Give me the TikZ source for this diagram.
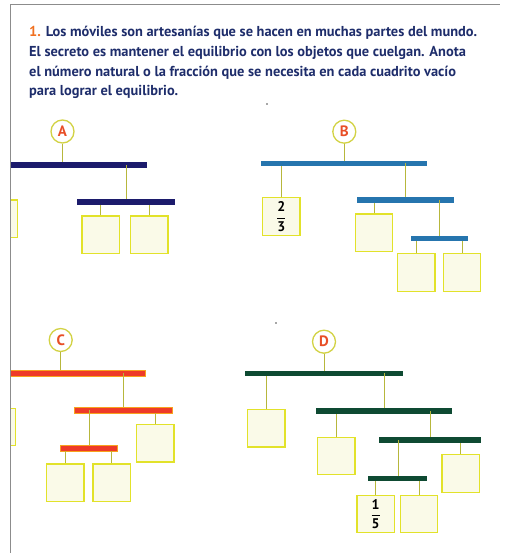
\documentclass[tikz,border=0pt]{standalone}
\usepackage{fontspec}
\setmainfont{PT Sans}
\setsansfont{PT Sans}
\begin{document}
\begin{tikzpicture}[x=1pt,y=-1pt]
\definecolor{navyT}{HTML}{1E2D6B}
\definecolor{orT}{HTML}{F07020}
\definecolor{barA}{HTML}{1C1B6C}
\definecolor{barB}{HTML}{2675AE}
\definecolor{barCf}{HTML}{EE3A28}
\definecolor{barCe}{HTML}{F7A21E}
\definecolor{barD}{HTML}{0E4A32}
\definecolor{boxc}{HTML}{E2E22A}
\definecolor{boxfill}{HTML}{FAFAE8}
\definecolor{stemc}{HTML}{B7B73C}
\definecolor{circc}{HTML}{D2D244}
\definecolor{labc}{HTML}{E84E26}
\definecolor{framec}{HTML}{8C8C8C}
\tikzset{
  titleline/.style={anchor=base west, inner sep=0, font=\fontsize{14.4}{16}\selectfont\bfseries, text=navyT},
  mbox/.style={draw=boxc, fill=boxfill, line width=1.3pt, minimum width=37.5pt, minimum height=37.5pt, inner sep=0, font=\bfseries\fontsize{14}{14}\selectfont},
  barbase/.style={anchor=west, minimum height=5.5pt, inner sep=0, outer sep=0},
  barAst/.style={barbase, fill=barA},
  barBst/.style={barbase, fill=barB},
  barCst/.style={barbase, fill=barCf, draw=barCe, line width=0.8pt},
  barDst/.style={barbase, fill=barD},
  stem/.style={draw=stemc, line width=0.9pt},
  lab/.style={circle, draw=circc, fill=white, line width=1.3pt, minimum size=23pt, inner sep=0, font=\bfseries\fontsize{15}{15}\selectfont, text=labc},
  frame/.style={draw=framec, line width=1pt}
}
\useasboundingbox (0,0) rectangle (504,553);
% frame
\coordinate (fTL) at (10,5);
\coordinate (fTR) at (500,5);
\coordinate (fBL) at (10,553);
% title
\node[titleline] (t1) at (29,37) {\textcolor{orT}{1.} Los móviles son artesanías que se hacen en muchas partes del mundo.};
\node[titleline] (t2) at (29,56.7) {El secreto es mantener el equilibrio con los objetos que cuelgan. Anota};
\node[titleline] (t3) at (29,76.3) {el número natural o la fracción que se necesita en cada cuadrito vacío};
\node[titleline] (t4) at (29,96) {para lograr el equilibrio.};
% specks
\fill[black!70] (267,104) circle (0.9pt);
\fill[black!70] (276,323) circle (0.8pt);

% ================= A =================
\begin{scope}
\clip (10,0) rectangle (504,553);
\node[mbox] (boxA0) at (-1.5,218.7) {};
\node[mbox] (boxC0) at (-3.5,427) {};
\end{scope}
\node[barAst, minimum width=137.3pt] (barA1) at (10,165) {};
\node[barAst, minimum width=98.3pt] (barA2) at (76.7,202) {};
\node[lab] (cA) at (62.5,131.5) {A};
\draw[stem] (cA.south) -- (cA.south |- barA1.north);
\coordinate (hA1) at (126,165);
\draw[stem] (hA1) -- (hA1 |- barA2.north);
\node[mbox] (boxA1) at (100.8,234.7) {};
\node[mbox] (boxA2) at (149.2,234.7) {};
\draw[stem] (boxA1.north) -- (boxA1.north |- barA2.south);
\draw[stem] (boxA2.north) -- (boxA2.north |- barA2.south);

% ================= B =================
\node[barBst, minimum width=166pt] (barB1) at (260.7,163.3) {};
\node[barBst, minimum width=96.7pt] (barB2) at (357.3,200) {};
\node[barBst, minimum width=57.3pt] (barB3) at (410.7,238.3) {};
\node[lab] (cB) at (344.3,131.7) {B};
\draw[stem] (cB.south) -- (cB.south |- barB1.north);
\node[mbox] (boxB0) at (281.3,216.5) {$\displaystyle\frac{\textbf{2}}{\textbf{3}}$};
\draw[stem] (boxB0.north) -- (boxB0.north |- barB1.south);
\coordinate (hB1) at (405.7,163.3);
\draw[stem] (hB1) -- (hB1 |- barB2.north);
\node[mbox] (boxB1) at (374,232.7) {};
\draw[stem] (boxB1.north) -- (boxB1.north |- barB2.south);
\coordinate (hB2) at (439.3,200);
\draw[stem] (hB2) -- (hB2 |- barB3.north);
\node[mbox] (boxB2) at (416.3,272.5) {};
\node[mbox] (boxB3) at (462,272.5) {};
\draw[stem] (boxB2.north) -- (boxB2.north |- barB3.south);
\draw[stem] (boxB3.north) -- (boxB3.north |- barB3.south);

% ================= C =================
\node[lab] (cC) at (60.7,340) {C};
\node[barCst, minimum width=135pt] (barC1) at (10,373.2) {};
\node[barCst, minimum width=97.6pt] (barC2) at (74.7,410.2) {};
\node[barCst, minimum width=57.3pt] (barC3) at (60,448.2) {};
\draw[stem] (cC.south) -- (cC.south |- barC1.north);
\coordinate (hC1) at (123.3,373.2);
\draw[stem] (hC1) -- (hC1 |- barC2.north);
\coordinate (hC2) at (89,410.2);
\draw[stem] (hC2) -- (hC2 |- barC3.north);
\node[mbox] (boxC3) at (155.2,443.2) {};
\draw[stem] (boxC3.north) -- (boxC3.north |- barC2.south);
\node[mbox] (boxC1) at (65.2,482.8) {};
\node[mbox] (boxC2) at (111.7,482.8) {};
\draw[stem] (boxC1.north) -- (boxC1.north |- barC3.south);
\draw[stem] (boxC2.north) -- (boxC2.north |- barC3.south);

% ================= D =================
\node[lab] (cD) at (324,341.7) {D};
\node[barDst, minimum width=158.3pt] (barD1) at (245,373.3) {};
\node[barDst, minimum width=136.3pt] (barD2) at (316,411.2) {};
\node[barDst, minimum width=101.7pt] (barD3) at (379,440) {};
\node[barDst, minimum width=58.4pt] (barD4) at (368.3,478.7) {};
\draw[stem] (cD.south) -- (cD.south |- barD1.north);
\node[mbox] (boxD0) at (266.2,428.3) {};
\draw[stem] (boxD0.north) -- (boxD0.north |- barD1.south);
\coordinate (hD1) at (384,373.3);
\draw[stem] (hD1) -- (hD1 |- barD2.north);
\node[mbox] (boxD1) at (336.2,456) {};
\draw[stem] (boxD1.north) -- (boxD1.north |- barD2.south);
\coordinate (hD2) at (430,411.2);
\draw[stem] (hD2) -- (hD2 |- barD3.north);
\node[mbox] (boxD4) at (460.7,473.5) {};
\draw[stem] (boxD4.north) -- (boxD4.north |- barD3.south);
\coordinate (hD3) at (398.3,440);
\draw[stem] (hD3) -- (hD3 |- barD4.north);
\node[mbox] (boxD2) at (375.7,514) {$\displaystyle\frac{\textbf{1}}{\textbf{5}}$};
\node[mbox] (boxD3) at (419,514) {};
\draw[stem] (boxD2.north) -- (boxD2.north |- barD4.south);
\draw[stem] (boxD3.north) -- (boxD3.north |- barD4.south);

% frame lines
\draw[frame] (fBL) -- (fTL) -- (fTR);
\end{tikzpicture}
\end{document}
